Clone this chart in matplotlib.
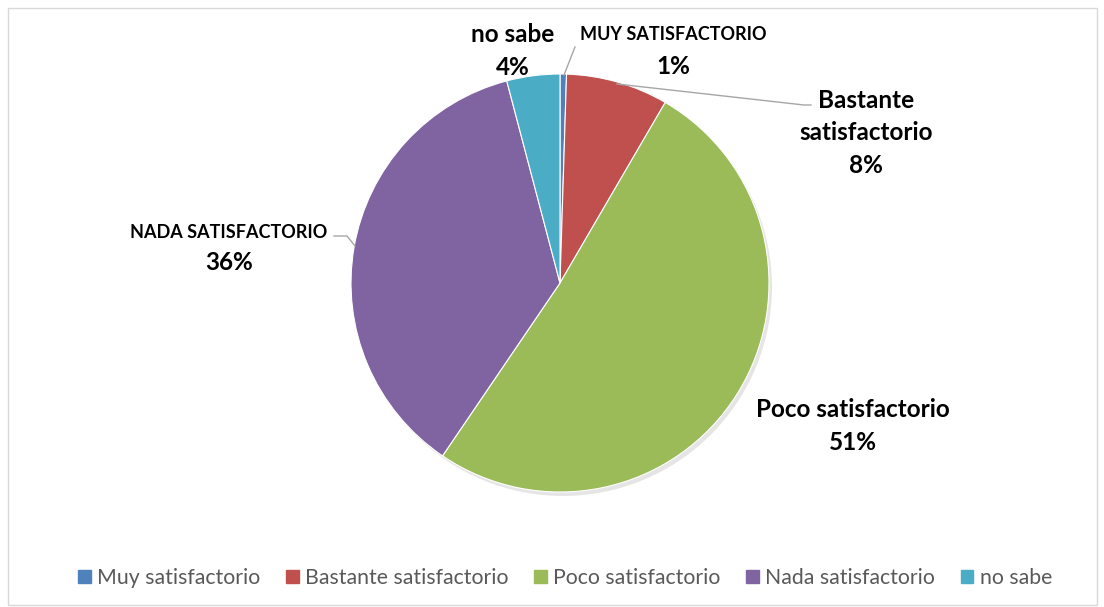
import matplotlib
matplotlib.use("Agg")
import matplotlib.pyplot as plt
from matplotlib.patches import Rectangle, Circle

categories = ["Muy satisfactorio", "Bastante satisfactorio", "Poco satisfactorio",
              "Nada satisfactorio", "no sabe"]
values = [0.5, 7.9, 51.1, 36.4, 4.1]
label_names = ["MUY SATISFACTORIO", "Bastante\nsatisfactorio", "Poco satisfactorio",
               "NADA SATISFACTORIO", "no sabe"]
colors = ["#4F81BD", "#C0504D", "#9BBB59", "#8064A2", "#4BACC6"]

W, H = 1104, 607
fig = plt.figure(figsize=(W / 100, H / 100), dpi=100)
ax = fig.add_axes([0, 0, 1, 1])

FONT = "Lato"
cx, cy, r = 560, 283, 209

# subtle shadow
ax.add_patch(Circle((cx + 3, cy + 4), r, color="#000000", alpha=0.10, lw=0, zorder=1))

# y axis is inverted (pixel coordinates), so counterclock=True draws clockwise on screen
wedges, _ = ax.pie(values, colors=colors, startangle=-90, counterclock=True,
                   radius=r, center=(cx, cy),
                   wedgeprops=dict(edgecolor="white", linewidth=0.8))
for w in wedges:
    w.set_zorder(2)
ax.set_xlim(0, W)
ax.set_ylim(H, 0)
ax.set_aspect("equal")
ax.axis("off")

def pct(v):
    return f"{int(v + 0.5)}%"

txt = dict(ha="center", va="center", fontweight="bold", color="#000000",
           family=FONT, linespacing=1.5)
big = 17.5
small = 13.0

ax.text(673, 35, label_names[0], fontsize=small, **txt)
ax.text(673, 66, pct(values[0]), fontsize=big, **txt)
ax.text(866, 133, label_names[1] + "\n" + pct(values[1]), fontsize=big, **txt)
ax.text(853, 426, label_names[2] + "\n" + pct(values[2]), fontsize=big, **txt)
ax.text(229, 232, label_names[3], fontsize=small, **txt)
ax.text(229, 263, pct(values[3]), fontsize=big, **txt)
ax.text(513, 51, label_names[4] + "\n" + pct(values[4]), fontsize=big, **txt)

lc = "#A6A6A6"
ax.plot([564, 575], [75, 47], color=lc, lw=1, zorder=3)
ax.plot([617, 804, 811], [84, 105, 105], color=lc, lw=1, zorder=3)
ax.plot([355, 347, 334], [246, 236, 236], color=lc, lw=1, zorder=3)

handles = [Rectangle((0, 0), 1, 1, color=c) for c in colors]
leg = fig.legend(handles, categories, loc="center", bbox_to_anchor=(565 / W, 1 - 578 / H),
                 ncol=5, frameon=False, handlelength=0.6, handleheight=0.6,
                 handletextpad=0.3, columnspacing=1.2,
                 prop=dict(family=FONT, size=15.3))
for t in leg.get_texts():
    t.set_color("#595959")

ax.add_patch(Rectangle((8, 8), 1089, 597, fill=False, edgecolor="#D9D9D9", lw=1, zorder=0))

fig.savefig("out.png", dpi=100)
